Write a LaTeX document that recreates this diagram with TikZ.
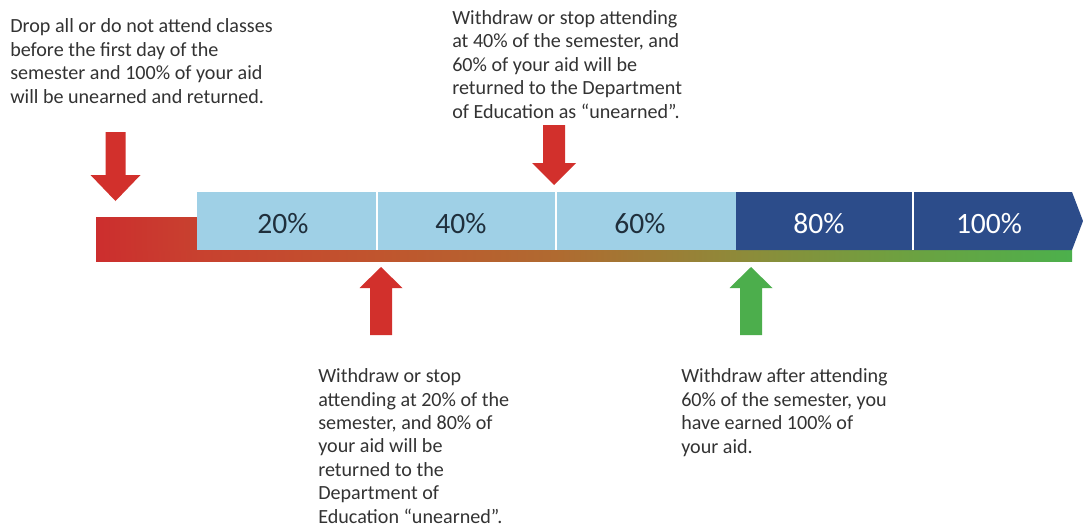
\documentclass[tikz,border=0pt]{standalone}
\usepackage{fontspec}
\setmainfont{Carlito}
\usepackage{tikz}
\usetikzlibrary{calc}
\definecolor{tlred}{HTML}{CC2E2E}
\definecolor{tlredorange}{HTML}{C8412F}
\definecolor{tlorange}{HTML}{C0552E}
\definecolor{tlbrown}{HTML}{B06A30}
\definecolor{tlolive}{HTML}{8C8C3A}
\definecolor{tllime}{HTML}{6FA040}
\definecolor{tlgreen}{HTML}{4CB04C}
\definecolor{arrowred}{HTML}{D2302C}
\definecolor{arrowgreen}{HTML}{4CAE4C}
\definecolor{lightseg}{HTML}{9FD0E6}
\definecolor{darkseg}{HTML}{2C4C8A}
\definecolor{notetext}{HTML}{333333}
\definecolor{pcttext}{HTML}{1F2F3C}
\pgfdeclarehorizontalshading{timeline}{100bp}{color(0bp)=(tlred); color(25bp)=(tlred);
  color(30.3bp)=(tlredorange); color(39.5bp)=(tlorange); color(48.5bp)=(tlbrown);
  color(58.5bp)=(tlolive); color(66bp)=(tllime); color(75bp)=(tlgreen); color(100bp)=(tlgreen)}

\begin{document}
\begin{tikzpicture}[
    x=0.025cm, y=-0.025cm,
    note/.style={anchor=base west, inner sep=0pt, align=left, text=notetext,
                 font=\fontsize{14.3}{16.6}\selectfont},
    pct/.style={anchor=base, inner sep=0pt, font=\fontsize{21}{25}\selectfont},
    divider/.style={white, line width=0.9pt},
    pics/pointer/.style n args={4}{code={
        \fill (0,0) -- (-#4,-#2) -- (-#3,-#2) -- (-#3,-#1) -- (#3,-#1)
              -- (#3,-#2) -- (#4,-#2) -- cycle;}},
]
\fill[white] (0,0) rectangle (1083,527);
\useasboundingbox (0,0) rectangle (1083,527);

% timeline bar
\shade[shading=timeline] (96,250) rectangle (1072,261);
\shade[left color=tlred, right color=tlredorange] (96,217) rectangle (197,250.5);
\fill[lightseg] (197,192) rectangle (736,250);
\fill[darkseg] (736,192) -- (1072,192) -- (1083,221) -- (1072,250) -- (736,250) -- cycle;
\foreach \x in {377,556,913}
    \draw[divider] (\x,192) -- (\x,250);

\node[pct,text=pcttext] (p20) at (283,233) {20\%};
\node[pct,text=pcttext] (p40) at (461,233) {40\%};
\node[pct,text=pcttext] (p60) at (640,233) {60\%};
\node[pct,text=white] (p80) at (819,233) {80\%};
\node[pct,text=white] (p100) at (989,233) {100\%};

% pointers
\pic[arrowred] (drop) at (115.5,201) {pointer={69}{26}{10}{25}};
\pic[arrowred] (at40) at (554,185) {pointer={60}{22}{11}{22}};
\pic[arrowred,rotate=180] (at20) at (381,267) {pointer={68}{21}{11}{21.5}};
\pic[arrowgreen,rotate=180] (at60) at (751,267) {pointer={68}{21}{11}{21.5}};

% notes (placed at the baseline of their last line)
\node[note] (n0) at (10,103) {Drop all or do not attend classes\\before the first day of the\\semester and 100\% of your aid\\will be unearned and returned.};
\node[note] (n40) at (452,118) {Withdraw or stop attending\\at 40\% of the semester, and\\60\% of your aid will be\\returned to the Department\\of Education as “unearned”.};
\node[note] (n20) at (318,523) {Withdraw or stop\\attending at 20\% of the\\semester, and 80\% of\\your aid will be\\returned to the\\Department of\\Education “unearned”.};
\node[note] (n60) at (681,453) {Withdraw after attending\\60\% of the semester, you\\have earned 100\% of\\your aid.};

\end{tikzpicture}
\end{document}
